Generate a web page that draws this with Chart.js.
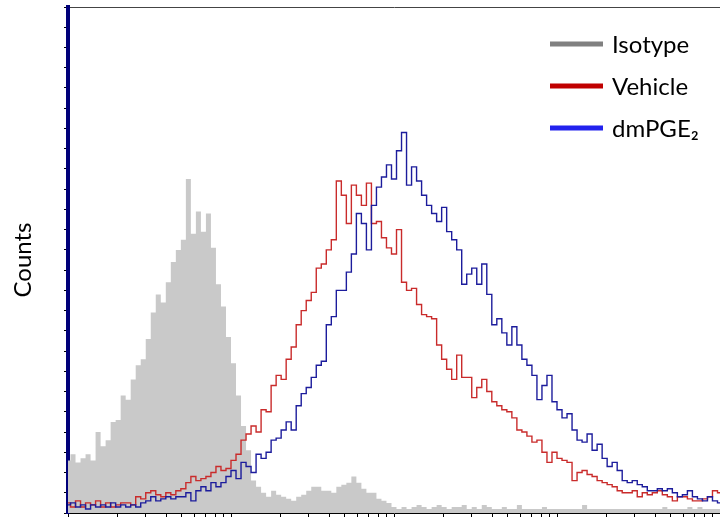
<!DOCTYPE html>
<html>
<head>
<meta charset="utf-8">
<script src="https://cdn.jsdelivr.net/npm/chart.js@4.4.1/dist/chart.umd.min.js"></script>
<style>
  html, body { margin: 0; padding: 0; background: #fff; }
  #wrap { width: 720px; height: 519px; position: relative; }
</style>
</head>
<body>
<div id="wrap"><canvas id="histo"></canvas></div>
<script>
// flow histogram, 131 display bins across 4 log decades
const seriesNames = ['Isotype', 'Vehicle', 'dmPGE₂'];
const keyColors = ['#808080', '#C00000', '#2222EE'];

const isotype = [26, 29, 25, 27, 29, 26, 40, 33, 36, 45, 46, 58, 56, 66, 73, 76, 86, 99, 108, 104,
  114, 124, 130, 135, 165, 138, 149, 139, 148, 131, 113, 102, 87, 74, 58, 43, 31, 16, 13, 10,
  8, 11, 9, 8, 7, 6, 8, 9, 11, 13, 13, 11, 11, 10, 13, 14, 15, 18, 15, 12,
  10, 10, 7, 6, 5, 3, 2, 3, 2, 3, 4, 3, 2, 3, 4, 3, 2, 3, 3, 4,
  2, 3, 2, 4, 3, 2, 2, 3, 2, 2, 4, 2, 2, 2, 2, 3, 2, 2, 2, 2,
  2, 2, 2, 4, 2, 2, 2, 2, 2, 2, 2, 2, 2, 2, 2, 2, 2, 2, 2, 3,
  2, 2, 2, 2, 3, 2, 3, 2, 2, 2, 2];

const vehicle = [5, 3, 6, 3, 5, 4, 6, 3, 5, 3, 4, 5, 5, 4, 8, 7, 10, 11, 9, 8,
  10, 9, 11, 12, 15, 18, 16, 17, 18, 20, 23, 21, 22, 26, 29, 36, 39, 43, 40, 51,
  50, 63, 68, 66, 76, 82, 93, 100, 105, 109, 121, 123, 130, 135, 164, 157, 143, 162, 157, 152,
  163, 143, 144, 136, 131, 128, 140, 114, 110, 111, 103, 98, 97, 96, 83, 76, 71, 66, 78, 67,
  67, 57, 62, 66, 60, 55, 53, 51, 50, 47, 41, 40, 38, 35, 36, 30, 25, 30, 27, 26,
  25, 16, 20, 21, 19, 18, 16, 15, 14, 13, 11, 10, 10, 11, 8, 10, 9, 10, 11, 9,
  8, 6, 8, 8, 7, 6, 6, 7, 8, 11, 10];

const dmpge2 = [4, 5, 3, 4, 2, 4, 3, 4, 3, 5, 3, 4, 3, 4, 3, 5, 6, 8, 6, 7,
  8, 7, 8, 8, 10, 6, 11, 13, 11, 15, 13, 15, 18, 21, 17, 25, 23, 20, 29, 27,
  30, 36, 37, 41, 45, 41, 53, 59, 62, 67, 73, 75, 93, 97, 110, 110, 119, 128, 148, 143,
  130, 152, 161, 166, 172, 165, 179, 188, 162, 171, 164, 157, 152, 148, 144, 151, 139, 135, 130, 113,
  118, 121, 113, 123, 108, 93, 96, 89, 83, 92, 83, 76, 73, 68, 56, 63, 68, 55, 51, 47,
  49, 41, 36, 35, 39, 31, 34, 27, 23, 25, 21, 16, 15, 16, 14, 13, 11, 11, 12, 11,
  12, 10, 8, 9, 11, 8, 7, 6, 8, 6, 5];

const channels = isotype.map((_, i) => i);

const cornerLegend = {
  id: 'cornerLegend',
  afterDraw(chart) {
    const ctx = chart.ctx;
    ctx.save();
    ctx.font = '24px Lato';
    ctx.textBaseline = 'alphabetic';
    seriesNames.forEach((name, i) => {
      const y = 44 + i * 42;
      ctx.fillStyle = keyColors[i];
      ctx.fillRect(550, y - 2.5, 53, 5);
      ctx.fillStyle = '#000';
      ctx.fillText(name, 612, y + 9);
    });
    ctx.restore();
  }
};

new Chart(document.getElementById('histo'), {
  type: 'line',
  data: {
    labels: channels,
    datasets: [
      {
        label: seriesNames[0],
        data: isotype,
        stepped: 'middle',
        borderWidth: 0,
        borderColor: 'rgba(0,0,0,0)',
        backgroundColor: '#C9C9C9',
        fill: 'origin',
        pointRadius: 0,
        order: 3
      },
      {
        label: seriesNames[1],
        data: vehicle,
        stepped: 'middle',
        borderWidth: 1.4,
        borderColor: '#C92B2B',
        fill: false,
        pointRadius: 0,
        order: 2
      },
      {
        label: seriesNames[2],
        data: dmpge2,
        stepped: 'middle',
        borderWidth: 1.4,
        borderColor: '#1C1C9C',
        fill: false,
        pointRadius: 0,
        order: 1
      }
    ]
  },
  options: {
    responsive: true,
    maintainAspectRatio: false,
    animation: false,
    layout: { padding: { top: 7, right: 0, bottom: 0, left: 0 } },
    plugins: { legend: { display: false }, tooltip: { enabled: false } },
    scales: {
      x: { type: 'category', display: false, offset: false },
      xLog: {
        type: 'logarithmic',
        position: 'bottom',
        min: 1,
        max: 10000,
        ticks: { display: false },
        grid: { drawOnChartArea: false, drawTicks: true, tickLength: 4, color: '#000' },
        border: { color: '#000', width: 1 },
        afterBuildTicks(scale) {
          // chart.js adds 15, 150... between decades; the cytometer axis does not
          scale.ticks = scale.ticks.filter(t => !/^15/.test(String(t.value)));
        },
        afterFit(scale) { scale.height = 6; }
      },
      xTop: {
        type: 'linear',
        position: 'top',
        min: 0,
        max: 1,
        ticks: { display: false },
        grid: { display: false },
        border: { color: '#444', width: 1 },
        afterFit(scale) { scale.height = 0; }
      },
      y: {
        min: 0,
        max: 250,
        ticks: { display: false, stepSize: 10 },
        grid: { drawOnChartArea: false, drawTicks: true, tickLength: 4, color: '#000' },
        border: { color: '#00007A', width: 4 },
        title: {
          display: true,
          text: 'Counts',
          font: { family: 'Lato', size: 24 },
          color: '#000',
          padding: { top: 9, bottom: 0 }
        },
        afterFit(scale) { scale.width = 68; }
      }
    }
  },
  plugins: [cornerLegend]
});
</script>
</body>
</html>
